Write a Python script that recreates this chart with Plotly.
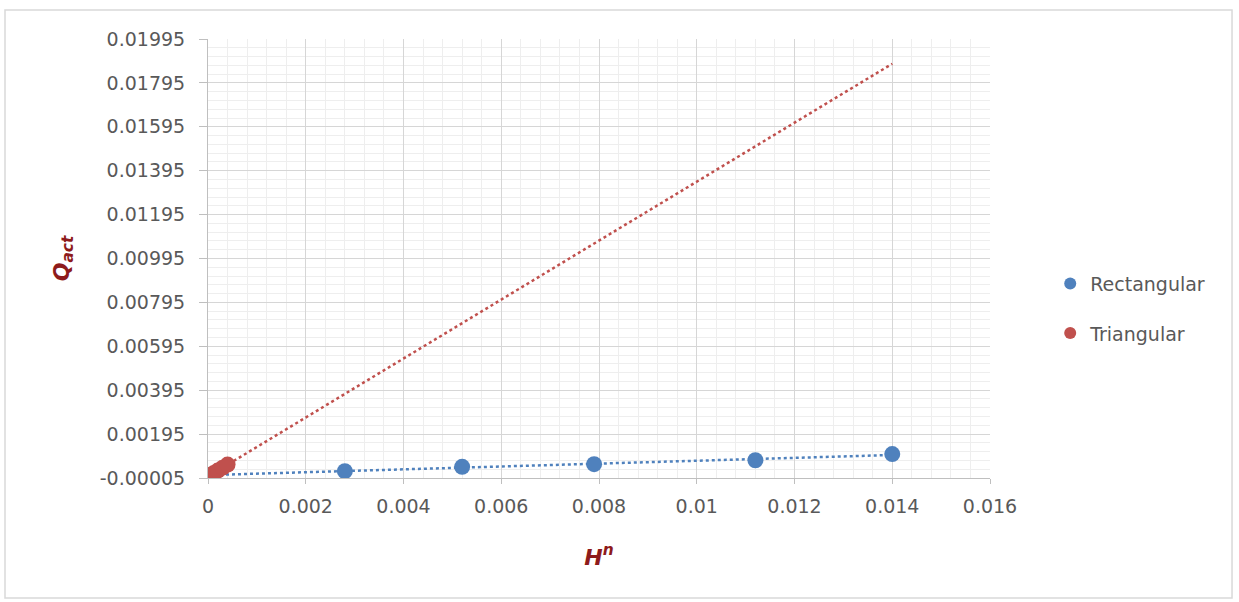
import numpy as np
import plotly.graph_objects as go

# Data
rect_x = [0.0028, 0.0052, 0.0079, 0.0112, 0.0140]
rect_y = [0.00026, 0.00046, 0.00058, 0.00076, 0.00104]
tri_x = [0.00000, 0.00005, 0.00012, 0.00020, 0.00030, 0.00040]
tri_y = [0.00002, 0.00009, 0.00018, 0.00029, 0.00042, 0.00056]

y_ticks = [-0.00005 + 0.002 * k for k in range(11)]
y_tick_labels = ["-0.00005", "0.00195", "0.00395", "0.00595", "0.00795", "0.00995",
                 "0.01195", "0.01395", "0.01595", "0.01795", "0.01995"]
x_ticks = [0, 0.002, 0.004, 0.006, 0.008, 0.01, 0.012, 0.014, 0.016]
x_tick_labels = ["0", "0.002", "0.004", "0.006", "0.008", "0.01", "0.012", "0.014", "0.016"]

BLUE = "#4F81BD"
RED = "#C0504D"
TITLE_RED = "#8E1B1B"
FONT = "'DejaVu Sans', sans-serif"

# Linear trendlines (fitted from the data, drawn from 0 to 0.014)
rp = np.polyfit(rect_x, rect_y, 1)
tp = np.polyfit(tri_x, tri_y, 1)
trend_x = np.array([0.0, 0.014])

fig = go.Figure()
fig.add_trace(go.Scatter(x=trend_x, y=np.polyval(rp, trend_x), mode="lines",
                         line=dict(color=BLUE, width=2.5, dash="dot"),
                         showlegend=False, hoverinfo="skip"))
fig.add_trace(go.Scatter(x=trend_x, y=np.polyval(tp, trend_x), mode="lines",
                         line=dict(color=RED, width=2.5, dash="dot"),
                         showlegend=False, hoverinfo="skip"))
fig.add_trace(go.Scatter(x=rect_x, y=rect_y, mode="markers", name="Rectangular",
                         legendgroup="a",
                         marker=dict(color=BLUE, size=16)))
fig.add_trace(go.Scatter(x=tri_x, y=tri_y, mode="markers", name="Triangular",
                         legendgroup="b",
                         marker=dict(color=RED, size=16)))

grid_major = "#D6D6D6"
grid_minor = "#EEEEEE"

fig.update_xaxes(range=[0, 0.016], tickvals=x_ticks, ticktext=x_tick_labels,
                 showgrid=True, gridcolor=grid_major, gridwidth=1,
                 minor=dict(dtick=0.0004, showgrid=True, gridcolor=grid_minor, gridwidth=1),
                 showline=True, linecolor="#BFBFBF", linewidth=1,
                 ticks="outside", ticklen=5, tickcolor="#BFBFBF",
                 ticklabelstandoff=6,
                 zeroline=False, tickfont=dict(size=19, color="#595959", family=FONT),
                 title=dict(text="<b><i>H<sup>n</sup></i></b>",
                            font=dict(size=22, color=TITLE_RED, family=FONT), standoff=33))
fig.update_yaxes(range=[-0.00005, 0.01995], tickvals=y_ticks, ticktext=y_tick_labels,
                 showgrid=True, gridcolor=grid_major, gridwidth=1,
                 minor=dict(tick0=-0.00005, dtick=0.0004, showgrid=True, gridcolor=grid_minor, gridwidth=1),
                 showline=True, linecolor="#BFBFBF", linewidth=1,
                 ticks="outside", ticklen=8, tickcolor="#BFBFBF",
                 ticklabelstandoff=10,
                 zeroline=False, tickfont=dict(size=19, color="#595959", family=FONT),
                 title=dict(text="<b><i>Q<sub>act</sub></i></b>",
                            font=dict(size=22, color=TITLE_RED, family=FONT), standoff=24))

fig.add_shape(type="rect", xref="paper", yref="paper",
              x0=-0.2596, x1=1.3095, y0=-0.2733, y1=1.066,
              line=dict(color="#D9D9D9", width=1.5), fillcolor="rgba(0,0,0,0)", layer="below")

fig.update_layout(
    width=1239, height=602,
    margin=dict(l=208, r=249, t=39, b=124),
    plot_bgcolor="white", paper_bgcolor="white",
    font=dict(family=FONT),
    legend=dict(x=1.077, y=0.386, xanchor="left", yanchor="middle",
                traceorder="grouped", tracegroupgap=22,
                font=dict(size=19, color="#595959", family=FONT),
                itemsizing="constant", bgcolor="rgba(0,0,0,0)"),
)

fig.write_html("out.html", config={"displayModeBar": False},
               post_script="document.body.style.margin='0';")
